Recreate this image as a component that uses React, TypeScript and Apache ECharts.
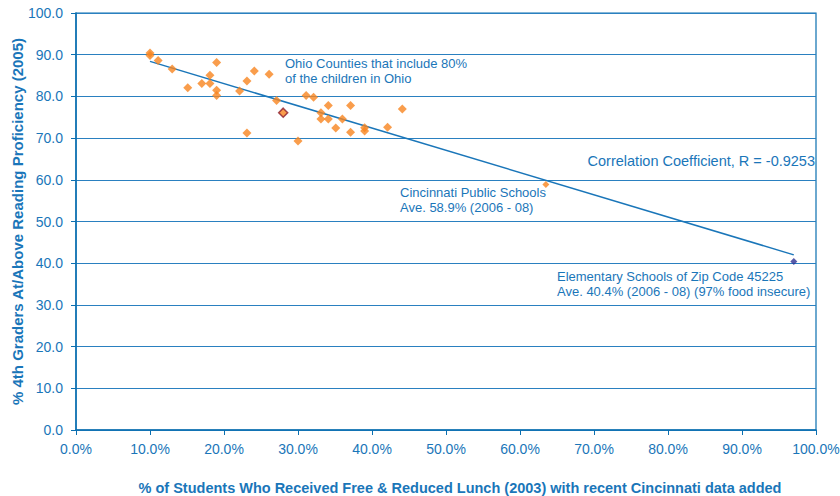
import React, { useEffect, useRef } from "react";
import * as echarts from "echarts";

const xTickLabels = ["0.0%", "10.0%", "20.0%", "30.0%", "40.0%", "50.0%", "60.0%", "70.0%", "80.0%", "90.0%", "100.0%"];

const countyPoints: [number, number][] = [
  [10.0, 90.4], [10.0, 89.8], [11.1, 88.6], [13.0, 86.6], [15.1, 82.1], [17.0, 83.1],
  [18.1, 85.1], [18.1, 83.1], [19.0, 88.1], [19.0, 81.5], [19.0, 80.2], [22.1, 81.3],
  [23.1, 83.7], [24.1, 86.1], [26.1, 85.3], [27.1, 79.0], [23.1, 71.2], [30.0, 69.3],
  [31.1, 80.2], [32.1, 79.8], [33.1, 76.1], [33.1, 74.6], [34.1, 77.8], [34.1, 74.6],
  [35.1, 72.4], [36.0, 74.6], [37.1, 77.8], [37.1, 71.4], [39.0, 72.5], [39.0, 71.7],
  [42.1, 72.6], [44.1, 77.0],
];
const hamiltonPoint: [number, number][] = [[28.0, 76.1]];
const cincinnatiPoint: [number, number][] = [[63.5, 58.9]];
const zipPoint: [number, number][] = [[97.0, 40.4]];
const trendLine: [number, number][] = [[10.0, 88.4], [97.0, 42.0]];

const BLUE = "#1a76b9";
const FONT = "'Liberation Sans', Arial, sans-serif";

export default function App() {
  const ref = useRef<HTMLDivElement>(null);
  useEffect(() => {
    document.body.style.margin = "0";
    if (!ref.current) return;
    const chart = echarts.init(ref.current, undefined, { renderer: "svg" });
    const textStyle = (text: string, x: number, y: number, size = 13, align = "left") => ({
      type: "text",
      x,
      y,
      style: {
        text,
        fill: BLUE,
        fontSize: size,
        fontFamily: FONT,
        align,
        verticalAlign: "middle",
        lineHeight: 15,
      },
    });
    chart.setOption({
      animation: false,
      backgroundColor: "#ffffff",
      grid: {
        left: 76,
        right: 24,
        top: 13,
        bottom: 66,
        containLabel: false,
        outerBoundsMode: "none",
        show: true,
        borderColor: "#0b6fb0",
        borderWidth: 1.2,
      },
      xAxis: {
        type: "value",
        min: 0,
        max: 100,
        interval: 10,
        name: "% of Students Who Received Free & Reduced Lunch (2003) with recent Cincinnati data added",
        nameLocation: "middle",
        nameGap: 50,
        nameMoveOverlap: false,
        nameTextStyle: {
          color: BLUE,
          fontSize: 14.5,
          fontWeight: "bold",
          fontFamily: "'Liberation Sans Narrow', 'Liberation Sans', Arial, sans-serif",
          padding: [0, 0, 0, 28],
        },
        axisLine: { show: true, lineStyle: { color: "#0b6fb0", width: 1.5 } },
        axisTick: { show: true, length: 5, lineStyle: { color: "#0b6fb0" } },
        axisLabel: {
          color: BLUE,
          fontSize: 14,
          fontFamily: FONT,
          margin: 12,
          formatter: (v: number) => xTickLabels[Math.round(v / 10)],
        },
        splitLine: { show: false },
      },
      yAxis: {
        type: "value",
        min: 0,
        max: 100,
        interval: 10,
        name: "% 4th Graders At/Above Reading Proficiency (2005)",
        nameLocation: "middle",
        nameGap: 51,
        nameMoveOverlap: false,
        nameTextStyle: {
          color: BLUE,
          fontSize: 15,
          fontWeight: "bold",
          fontFamily: FONT,
        },
        axisLine: { show: true, lineStyle: { color: "#0b6fb0", width: 1.5 } },
        axisTick: { show: true, length: 5, lineStyle: { color: "#0b6fb0" } },
        axisLabel: {
          color: BLUE,
          fontSize: 14,
          fontFamily: FONT,
          margin: 13,
          formatter: (v: number) => v.toFixed(1),
        },
        splitLine: { show: true, lineStyle: { color: "#2a80c0", width: 1.2 } },
      },
      series: [
        {
          name: "Trend",
          type: "line",
          data: trendLine,
          symbol: "none",
          lineStyle: { color: BLUE, width: 1.5 },
          z: 1,
        },
        {
          name: "Ohio Counties",
          type: "scatter",
          data: countyPoints,
          symbol: "diamond",
          symbolSize: 9,
          itemStyle: { color: "#f7841f" },
          z: 3,
        },
        {
          name: "Hamilton County",
          type: "scatter",
          data: hamiltonPoint,
          symbol: "diamond",
          symbolSize: 9,
          itemStyle: { color: "#f7841f", borderColor: "#8c1d2a", borderWidth: 1.5 },
          z: 4,
        },
        {
          name: "Cincinnati Public Schools",
          type: "scatter",
          data: cincinnatiPoint,
          symbol: "diamond",
          symbolSize: 7,
          itemStyle: { color: "#f7841f" },
          z: 4,
        },
        {
          name: "Zip Code 45225",
          type: "scatter",
          data: zipPoint,
          symbol: "diamond",
          symbolSize: 7,
          itemStyle: { color: "#2e3192" },
          z: 4,
        },
      ],
      graphic: [
        textStyle("Ohio Counties that include 80%\nof the children in Ohio", 285, 71, 13),
        textStyle("Correlation Coefficient, R = -0.9253", 815, 161, 14.5, "right"),
        textStyle("Cincinnati Public Schools\nAve. 58.9% (2006 - 08)", 400, 200, 13),
        textStyle("Elementary Schools of Zip Code 45225\nAve. 40.4% (2006 - 08) (97% food insecure)", 557, 284, 13),
      ],
    });
    return () => chart.dispose();
  }, []);
  return <div ref={ref} style={{ width: 840, height: 496 }} />;
}
